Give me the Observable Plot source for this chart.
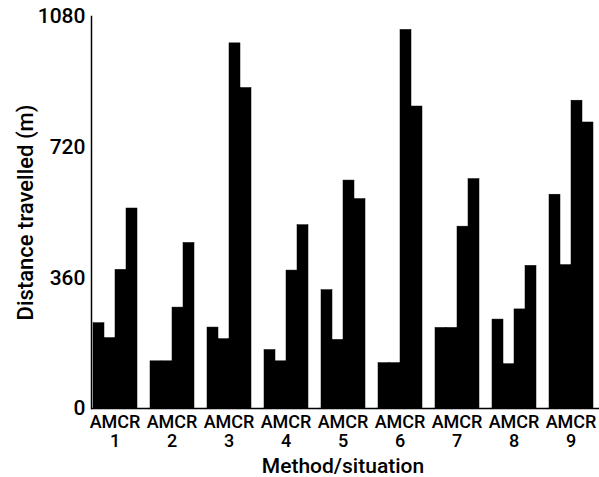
<!DOCTYPE html>
<html><head><meta charset="utf-8">
<script src="https://cdn.jsdelivr.net/npm/d3@7"></script>
<script src="https://cdn.jsdelivr.net/npm/@observablehq/plot@0.6"></script>
<style>body{margin:0;background:#fff}</style>
</head><body>
<script>
const situations = [1, 2, 3, 4, 5, 6, 7, 8, 9];
const methods = ["A", "M", "C", "R"];
const valA = [235, 130, 223, 161, 326, 125, 222, 245, 589];
const valM = [194, 130, 191, 130, 189, 125, 222, 122, 395];
const valC = [382, 278, 1006, 380, 628, 1043, 501, 273, 848];
const valR = [551, 456, 883, 505, 577, 832, 632, 393, 788];
const yTicks = [0, 360, 720, 1080];
const yLabel = "Distance travelled (m)";
const xLabel = "Method/situation";

const series = {A: valA, M: valM, C: valC, R: valR};
const rows = situations.flatMap((s, i) => methods.map(m => ({situation: s, method: m, value: series[m][i]})));

const chart = Plot.plot({
  width: 599,
  height: 477,
  marginLeft: 88,
  marginRight: 3,
  marginTop: 16,
  marginBottom: 69,
  style: {fontFamily: "Roboto", fontWeight: 500, fontSize: "18px", color: "black", background: "white"},
  fx: {domain: situations, paddingInner: 0.18, paddingOuter: 0, label: null},
  x: {domain: methods, padding: 0, axis: null},
  y: {domain: [0, 1080]},
  marks: [
    Plot.barY(rows, {fx: "situation", x: "method", y: "value", fill: "black", stroke: "black", strokeWidth: 0.5}),
    Plot.ruleY([0], {stroke: "black", strokeWidth: 1.5, insetRight: -10.5}),
    Plot.frame({anchor: "left", facetAnchor: "left", stroke: "black", strokeWidth: 1.5}),
    Plot.axisY({ticks: yTicks, tickFormat: "d", tickSize: 0, tickPadding: 6, fontSize: 21, fontWeight: 500, label: null}),
    Plot.axisY({ticks: [], label: yLabel, fontSize: 22, fontWeight: 500, labelAnchor: "center", labelOffset: 74, labelArrow: "none"}),
    Plot.axisFx({anchor: "bottom", tickSize: 0, tickPadding: 6, fontSize: 18, fontWeight: 500, lineHeight: 1.05, tickFormat: d => "AMCR\n" + d, label: null}),
    Plot.axisFx({anchor: "bottom", ticks: [], label: xLabel, fontSize: 21, fontWeight: 500, labelAnchor: "center", labelOffset: 64})
  ]
});
document.body.appendChild(chart);
</script>
</body></html>
